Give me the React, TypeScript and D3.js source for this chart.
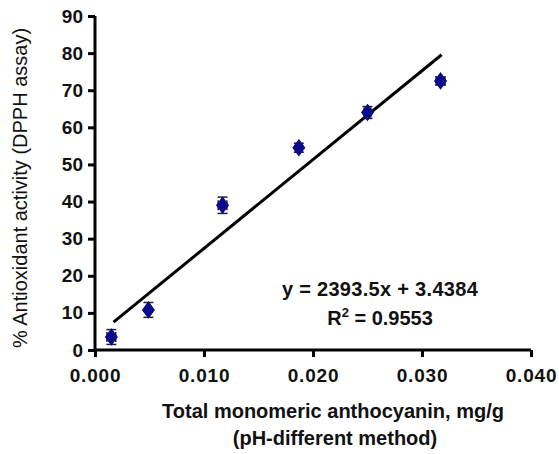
import React, { useEffect, useRef } from "react";
import * as d3 from "d3";

const anthocyanin = [0.0015, 0.0049, 0.0117, 0.0187, 0.025, 0.0317];
const activity = [3.5, 10.8, 39.0, 54.5, 64.0, 72.5];
const activityErr = [2.0, 2.0, 2.2, 1.2, 1.6, 1.0];
const anthocyaninErr = [0.0004, 0.0002, 0.0004, 0.0003, 0.0003, 0.0004];
const xTicks = [0, 0.01, 0.02, 0.03, 0.04];
const yTicks = [0, 10, 20, 30, 40, 50, 60, 70, 80, 90];
const slope = 2393.5;
const intercept = 3.4384;
const fitRange = [0.0017, 0.0318];

export default function App() {
  const ref = useRef<SVGSVGElement>(null);

  useEffect(() => {
    const svg = d3.select(ref.current);
    svg.selectAll("*").remove();
    const font = "Arial, 'Liberation Sans', sans-serif";

    const x = d3.scaleLinear().domain([0, 0.04]).range([95, 531]);
    const y = d3.scaleLinear().domain([0, 90]).range([350, 16]);

    // axes
    const xa = svg.append("g").attr("transform", "translate(0,350)")
      .call(d3.axisBottom(x).tickValues(xTicks).tickFormat(d3.format(".3f")).tickSize(7).tickPadding(12));
    const ya = svg.append("g").attr("transform", "translate(95,0)")
      .call(d3.axisLeft(y).tickValues(yTicks).tickSize(7).tickPadding(5));
    [xa, ya].forEach(a => {
      a.select(".domain").attr("stroke", "#000").attr("stroke-width", 3);
      a.selectAll(".tick line").attr("stroke", "#000").attr("stroke-width", 3);
      a.selectAll(".tick text").attr("fill", "#111").attr("font-family", font)
        .attr("font-size", 19).attr("font-weight", "bold");
    });
    xa.selectAll(".tick text").attr("letter-spacing", 0.8);
    xa.select(".domain").attr("d", `M${x(0)},0H${x(0.04)}`);
    ya.select(".domain").attr("d", `M0,${y(90)}V${y(0)}`);

    // fit line
    svg.append("line")
      .attr("x1", x(fitRange[0])).attr("y1", y(slope * fitRange[0] + intercept))
      .attr("x2", x(fitRange[1])).attr("y2", y(slope * fitRange[1] + intercept))
      .attr("stroke", "#000").attr("stroke-width", 3);

    const pts = anthocyanin.map((v, i) => ({ x: v, y: activity[i], ey: activityErr[i], ex: anthocyaninErr[i] }));
    const g = svg.append("g");
    pts.forEach(p => {
      const cx = x(p.x), cy = y(p.y);
      const t = y(p.y + p.ey), b = y(p.y - p.ey);
      const l = x(p.x - p.ex), r = x(p.x + p.ex);
      const seg = (x1: number, y1: number, x2: number, y2: number) =>
        g.append("line").attr("x1", x1).attr("y1", y1).attr("x2", x2).attr("y2", y2)
          .attr("stroke", "#222").attr("stroke-width", 1.5);
      seg(cx, t, cx, b);
      seg(cx - 5, t, cx + 5, t);
      seg(cx - 5, b, cx + 5, b);
      seg(l, cy, r, cy);
      seg(l, cy - 5, l, cy + 5);
      seg(r, cy - 5, r, cy + 5);
    });
    g.selectAll("path.pt").data(pts).enter().append("path")
      .attr("class", "pt")
      .attr("d", d3.symbol(d3.symbolDiamond, 90)())
      .attr("transform", d => `translate(${x(d.x)},${y(d.y)}) scale(1.15,0.9)`)
      .attr("fill", "#0a0a8c").attr("stroke", "#0a0a8c");

    // equation
    svg.append("text").attr("x", 380).attr("y", 296).attr("text-anchor", "middle")
      .attr("font-family", font).attr("font-size", 20).attr("font-weight", "bold")
      .attr("letter-spacing", 0.3).attr("fill", "#111")
      .text("y = 2393.5x + 3.4384");
    const r2 = svg.append("text").attr("x", 380).attr("y", 325).attr("text-anchor", "middle")
      .attr("font-family", font).attr("font-size", 20).attr("font-weight", "bold").attr("fill", "#111");
    r2.append("tspan").text("R");
    r2.append("tspan").attr("dy", -8).attr("font-size", 13).text("2");
    r2.append("tspan").attr("dy", 8).text(" = 0.9553");

    // axis titles
    svg.append("text").attr("x", 333).attr("y", 418).attr("text-anchor", "middle")
      .attr("font-family", font).attr("font-size", 20).attr("font-weight", "bold").attr("fill", "#111")
      .text("Total monomeric anthocyanin, mg/g");
    svg.append("text").attr("x", 335).attr("y", 445).attr("text-anchor", "middle")
      .attr("font-family", font).attr("font-size", 20).attr("font-weight", "bold").attr("fill", "#111")
      .text("(pH-different method)");

    svg.append("clipPath").attr("id", "ylab-clip")
      .append("rect").attr("x", 0).attr("y", 24).attr("width", 60).attr("height", 400);
    svg.append("g").attr("clip-path", "url(#ylab-clip)")
      .append("text")
      .attr("transform", "translate(27,348) rotate(-90)").attr("text-anchor", "start")
      .attr("font-family", font).attr("font-size", 20).attr("fill", "#111")
      .text("% Antioxidant activity (DPPH assay)");
  }, []);

  return (
    <svg ref={ref} width={559} height={454}
      style={{ position: "absolute", left: 0, top: 0, background: "#fff" }} />
  );
}
